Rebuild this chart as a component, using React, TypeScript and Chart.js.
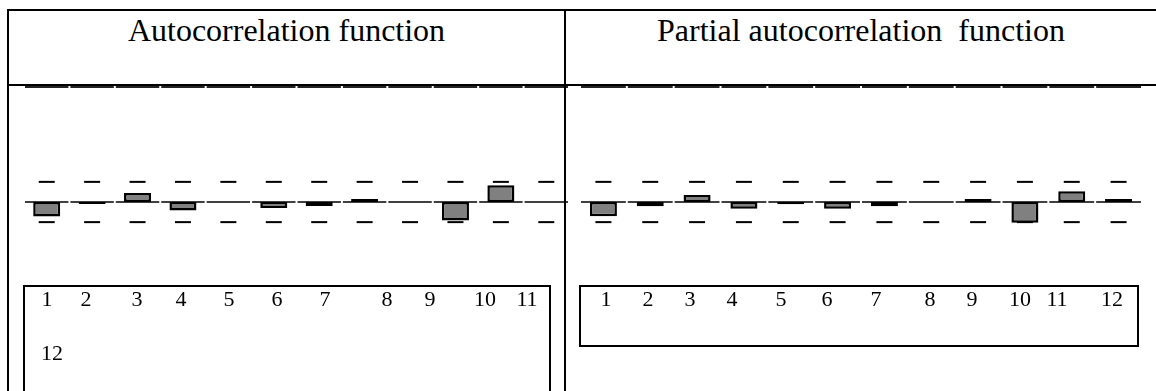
import React, { useEffect, useRef } from "react";
import { Chart, registerables } from "chart.js";

Chart.register(...registerables);

// ---- data ----
const lags = ["1", "2", "3", "4", "5", "6", "7", "8", "9", "10", "11", "12"];
const acfValues = [-0.126, -0.018, 0.079, -0.073, 0, -0.053, -0.035, 0.026, 0, -0.161, 0.146, 0];
const pacfValues = [-0.123, -0.038, 0.061, -0.058, -0.02, -0.058, -0.038, 0, 0.026, -0.18, 0.094, 0.026];
const confBound = 0.175;
const upperBound = 1;
const acfTitle = "Autocorrelation function";
const pacfTitle = "Partial autocorrelation  function";

// ---- layout (not data) ----
const acfLabelX = [47, 86, 137, 181, 229, 277, 325, 387, 430, 485, 527, 52];
const pacfLabelX = [606, 648, 690, 732, 781, 827, 876, 930, 972, 1020, 1057, 1112];
const Y_MIN = -0.73043;
const Y_MAX = 1.08696;

const guidePlugin = {
  id: "acfGuides",
  afterDatasetsDraw(chart: any, _args: any, opts: any) {
    const { ctx } = chart;
    const x = chart.scales.x;
    const y = chart.scales.y;
    const n = chart.data.labels.length;
    const step = n > 1 ? x.getPixelForValue(1) - x.getPixelForValue(0) : x.width;
    const yTop = y.getPixelForValue(opts.upper);
    const y0 = y.getPixelForValue(0);
    const yU = y.getPixelForValue(opts.conf);
    const yL = y.getPixelForValue(-opts.conf);
    const seg = (x1: number, yy: number, x2: number) => {
      ctx.beginPath();
      ctx.moveTo(x1, yy);
      ctx.lineTo(x2, yy);
      ctx.stroke();
    };
    ctx.save();
    for (let i = 0; i < n; i++) {
      const cx = x.getPixelForValue(i);
      ctx.strokeStyle = "#222";
      ctx.lineWidth = 2;
      seg(cx - step / 2 + 1, yTop, cx + step / 2 - 1);
      ctx.strokeStyle = "#000";
      ctx.lineWidth = 1.5;
      seg(cx - step / 2 + 1, y0, cx + step / 2 - 1);
      ctx.lineWidth = 2;
      seg(cx - 8, yU, cx + 8);
      seg(cx - 8, yL, cx + 8);
    }
    ctx.restore();
  },
};

function CorrChart(props: { values: number[]; barPct: number; left: number; width: number }) {
  const ref = useRef<HTMLCanvasElement | null>(null);
  useEffect(() => {
    if (!ref.current) return;
    const chart = new Chart(ref.current, {
      type: "bar",
      data: {
        labels: lags,
        datasets: [
          {
            data: props.values,
            backgroundColor: "#808080",
            borderColor: "#000",
            borderWidth: 2.5,
            borderSkipped: false,
            categoryPercentage: 1,
            barPercentage: props.barPct,
          } as any,
        ],
      },
      options: {
        animation: false,
        responsive: false,
        maintainAspectRatio: false,
        devicePixelRatio: 1,
        layout: { padding: 0 },
        scales: {
          x: { type: "category", display: false, offset: true, grid: { display: false } },
          y: { display: false, min: Y_MIN, max: Y_MAX },
        },
        plugins: {
          legend: { display: false },
          tooltip: { enabled: false },
          acfGuides: { upper: upperBound, conf: confBound },
        } as any,
      },
      plugins: [guidePlugin],
    });
    return () => chart.destroy();
  }, []);
  return (
    <canvas
      ref={ref}
      width={props.width}
      height={209}
      style={{ position: "absolute", left: props.left, top: 77, width: props.width, height: 209 }}
    />
  );
}

const line = (left: number, top: number, width: number, height: number) => (
  <div style={{ position: "absolute", left, top, width, height, background: "#000", zIndex: 2 }} />
);

export default function App() {
  const font = "'Liberation Serif', 'Times New Roman', serif";
  return (
    <div
      style={{
        position: "fixed",
        left: 0,
        top: 0,
        width: 1156,
        height: 391,
        background: "#fff",
        overflow: "hidden",
        fontFamily: font,
        color: "#000",
      }}
    >
      <CorrChart values={acfValues} barPct={0.595} left={24} width={545} />
      <CorrChart values={pacfValues} barPct={0.577} left={580} width={562} />
      {line(8, 9, 1148, 2)}
      {line(8, 84, 1148, 2)}
      {line(7, 9, 2, 382)}
      {line(564, 9, 2, 382)}
      <div style={{ position: "absolute", left: 8, top: 14, width: 557, textAlign: "center", fontSize: 32, lineHeight: "32px", whiteSpace: "pre" }}>
        {acfTitle}
      </div>
      <div style={{ position: "absolute", left: 566, top: 14, width: 590, textAlign: "center", fontSize: 32, lineHeight: "32px", whiteSpace: "pre" }}>
        {pacfTitle}
      </div>
      <div style={{ position: "absolute", left: 23, top: 285, width: 528, height: 140, border: "2px solid #000", boxSizing: "border-box" }} />
      <div style={{ position: "absolute", left: 579, top: 285, width: 560, height: 62, border: "2px solid #000", boxSizing: "border-box" }} />
      {lags.map((lab, i) => (
        <span
          key={"a" + i}
          style={{
            position: "absolute",
            left: acfLabelX[i],
            top: i < 11 ? 288 : 342,
            transform: "translateX(-50%)",
            fontSize: 22,
            lineHeight: "22px",
          }}
        >
          {lab}
        </span>
      ))}
      {lags.map((lab, i) => (
        <span
          key={"p" + i}
          style={{
            position: "absolute",
            left: pacfLabelX[i],
            top: 288,
            transform: "translateX(-50%)",
            fontSize: 22,
            lineHeight: "22px",
          }}
        >
          {lab}
        </span>
      ))}
    </div>
  );
}
